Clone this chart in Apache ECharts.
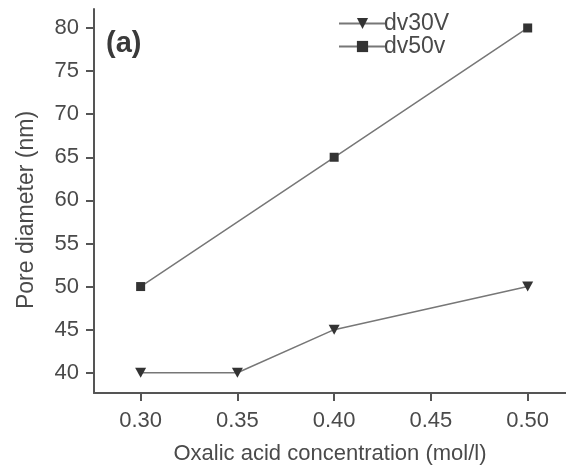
<!DOCTYPE html>
<html>
<head>
<meta charset="utf-8">
<script src="https://cdn.jsdelivr.net/npm/echarts@6/dist/echarts.min.js"></script>
<style>html,body{margin:0;padding:0;background:#fff;}#c{width:566px;height:470px;}</style>
</head>
<body>
<div id="c"></div>
<script>
const xTicks = [0.30, 0.35, 0.40, 0.45, 0.50];
const yTicks = [40, 45, 50, 55, 60, 65, 70, 75, 80];
const x30 = [0.30, 0.35, 0.40, 0.50];
const dv30V = [40, 40, 45, 50];
const x50 = [0.30, 0.40, 0.50];
const dv50v = [50, 65, 80];
const seriesNames = ['dv30V', 'dv50v'];

const textColor = '#4a4a4a';
const font = '"Liberation Sans", Arial, sans-serif';
const chart = echarts.init(document.getElementById('c'));
chart.setOption({
  animation: false,
  backgroundColor: '#fff',
  grid: { left: 94, right: 0, top: 9, bottom: 77 },
  legend: {
    orient: 'vertical', left: 333, top: 7,
    itemWidth: 47, itemHeight: 14, itemGap: 0,
    textStyle: { fontFamily: font, fontSize: 23, color: textColor, padding: [0,0,0,-7] },
    data: seriesNames
  },
  xAxis: {
    type: 'value', min: 0.2759, max: 0.5198,
    name: 'Oxalic acid concentration (mol/l)', nameLocation: 'middle', nameGap: 50,
    nameTextStyle: { fontFamily: font, fontSize: 22, color: textColor },
    axisLine: { lineStyle: { color: '#555', width: 2 } },
    axisTick: { show: true, length: 8, inside: false, customValues: xTicks, lineStyle: { color: '#555', width: 2 } },
    axisLabel: { customValues: xTicks, margin: 17, fontFamily: font, fontSize: 22, color: textColor,
      formatter: v => v.toFixed(2) },
    splitLine: { show: false }
  },
  yAxis: {
    type: 'value', min: 37.65, max: 82.2,
    name: 'Pore diameter (nm)', nameLocation: 'middle', nameGap: 56, nameRotate: 90,
    nameTextStyle: { fontFamily: font, fontSize: 23, color: textColor, padding: [0, 18, 0, 0] },
    axisLine: { show: true, lineStyle: { color: '#555', width: 2 } },
    axisTick: { show: true, length: 8, inside: false, customValues: yTicks, lineStyle: { color: '#555', width: 2 } },
    axisLabel: { customValues: yTicks, margin: 15, fontFamily: font, fontSize: 22, color: textColor },
    splitLine: { show: false }
  },
  graphic: [{
    type: 'text', left: 106, top: 29,
    style: { text: '(a)', font: 'bold 29px ' + font, fill: '#3a3a3a' }
  }],
  series: [
    {
      name: seriesNames[0], type: 'line',
      data: x30.map((x, i) => [x, dv30V[i]]),
      symbol: 'triangle', symbolRotate: 180, symbolSize: [11, 10],
      lineStyle: { color: '#777', width: 1.5 },
      itemStyle: { color: '#333' }
    },
    {
      name: seriesNames[1], type: 'line',
      data: x50.map((x, i) => [x, dv50v[i]]),
      symbol: 'rect', symbolSize: 9,
      lineStyle: { color: '#777', width: 1.5 },
      itemStyle: { color: '#333' }
    }
  ]
});
</script>
</body>
</html>
